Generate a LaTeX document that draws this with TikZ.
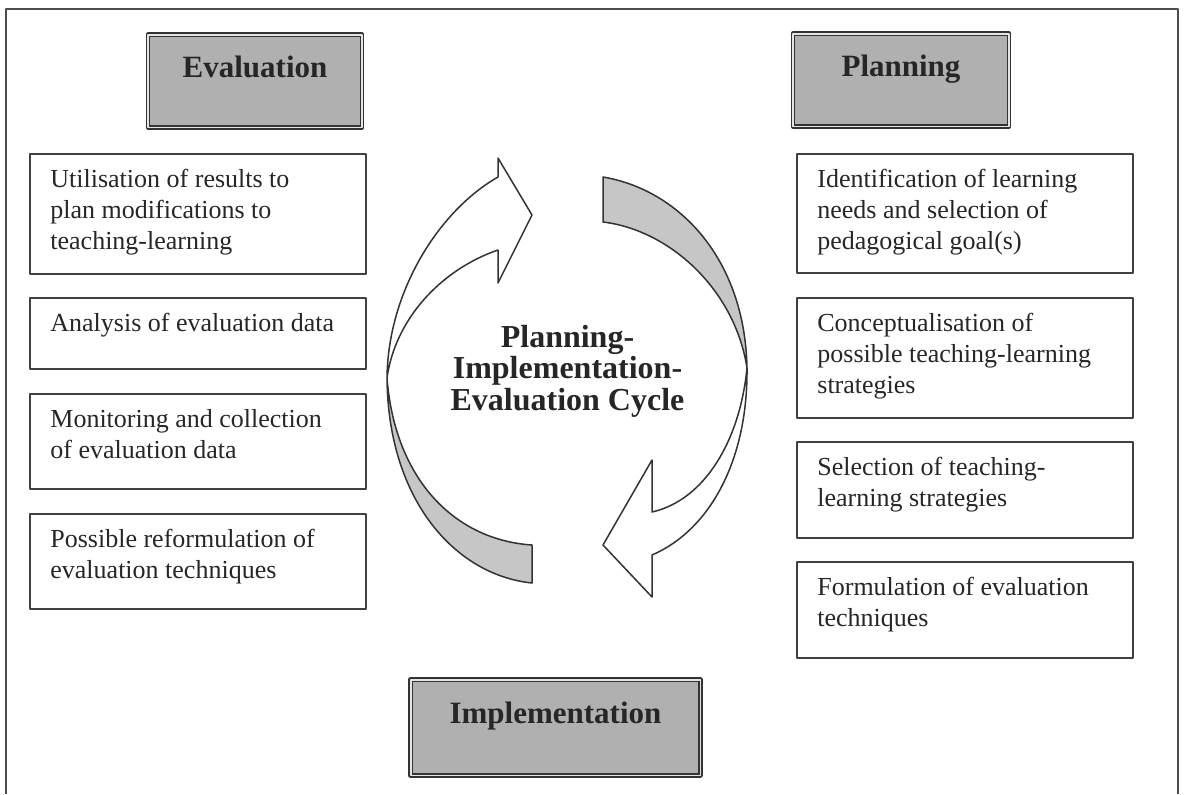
\documentclass[tikz,border=0pt]{standalone}
\usepackage{fontspec}
\setmainfont{Liberation Serif}
\begin{document}
\begin{tikzpicture}
        [x=0.5pt, y=-0.5pt, line join=round,
         stage/.style={draw=black!80, line width=0.8pt, double=gray!20, double distance=0.8pt, fill=gray!62,
                       font=\fontsize{15.5}{18}\selectfont\bfseries, text=black!85, inner sep=0pt,
                       text height=10.6pt, text depth=14.6pt},
         stepbox/.style={draw=black!75, line width=0.8pt, anchor=north west, minimum width=168pt, inner sep=0pt},
         steptext/.style={anchor=north west, inner sep=0pt, align=left, font=\fontsize{13}{15.5}\selectfont, text=black!85},
         ribbon/.style={draw=black!80, line width=0.75pt}]

        \useasboundingbox (0,0) rectangle (1185,794);
        \draw[black!70, line width=1pt] (6,794) |- (1178,9) -- (1178,794);

        \node[stage, minimum width=107pt, minimum height=46.3pt] (evaluation) at (255,81) {Evaluation};
        \node[stage, minimum width=108pt, minimum height=46.3pt] (planning) at (901,80) {Planning};
        \node[stage, minimum width=144.8pt, minimum height=47.8pt] (implementation) at (555.5,727.5) {Implementation};

        \foreach \i/\y/\h/\txt in {1/153/120/{Utilisation of results to\\plan modifications to\\teaching-learning},
                                   2/297/71/{Analysis of evaluation data},
                                   3/393/95/{Monitoring and collection\\of evaluation data},
                                   4/513/95/{Possible reformulation of\\evaluation techniques}}
        {
        \node[stepbox, minimum height=\h*0.5pt] (eval-\i) at (29,\y) {};
        \node[steptext] (eval-\i-text) at ([xshift=10.5pt, yshift=-6.4pt]eval-\i.north west) {\strut\txt};
        }

        \foreach \i/\y/\h/\txt in {1/153/119/{Identification of learning\\needs and selection of\\pedagogical goal(s)},
                                   2/297/120/{Conceptualisation of\\possible teaching-learning\\strategies},
                                   3/441/96/{Selection of teaching-\\learning strategies},
                                   4/561/96/{Formulation of evaluation\\techniques}}
        {
        \node[stepbox, minimum height=\h*0.5pt] (plan-\i) at (796,\y) {};
        \node[steptext] (plan-\i-text) at ([xshift=10.5pt, yshift=-6.4pt]plan-\i.north west) {\strut\txt};
        }

        % right arrow: grey back face, then white front face with head
        \draw[ribbon, fill=gray!45] (603,177) .. controls (680,190) and (745,260) .. (747,368)
              .. controls (735,290) and (670,230) .. (603,222) -- cycle;
        \draw[ribbon, fill=white] (747,368) .. controls (740,440) and (705,500) .. (652,512)
              -- (652,460) -- (603,545) -- (652,597) -- (652,555)
              .. controls (710,530) and (748,460) .. (747,368) -- cycle;

        % left arrow
        \draw[ribbon, fill=gray!45] (532,583) .. controls (455,575) and (388,500) .. (387,378)
              .. controls (395,480) and (455,540) .. (532,545) -- cycle;
        \draw[ribbon, fill=white] (387,378) .. controls (388,290) and (440,210) .. (498,177)
              -- (498,158) -- (532,215) -- (498,283) -- (498,250)
              .. controls (440,270) and (395,320) .. (387,378) -- cycle;

        \node[font=\fontsize{16}{15.8}\selectfont\bfseries, align=center, inner sep=0pt, text=black!85]
              (cycle) at (567.5,371) {Planning-\\Implementation-\\Evaluation Cycle};
    \end{tikzpicture}
\end{document}
